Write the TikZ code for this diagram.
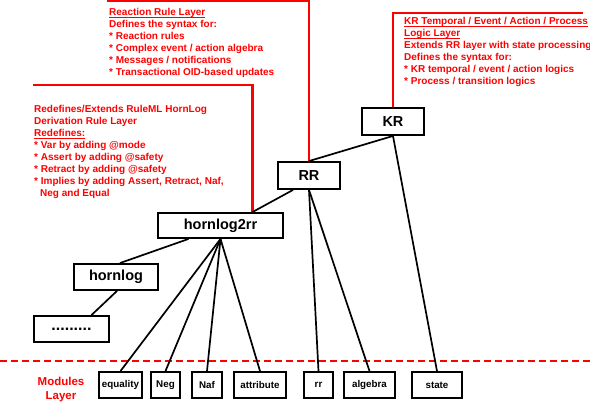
\documentclass[tikz,border=0pt]{standalone}
\usepackage{fontspec}
\setmainfont{Liberation Sans}
\usetikzlibrary{positioning}
\newcommand{\ulin}[1]{\underline{\raisebox{0pt}[\height][0pt]{#1}}}

\begin{document}
\begin{tikzpicture}[x=1pt,y=-1pt,
  box/.style={draw,line width=1.9pt,inner sep=0pt,font=\fontsize{14.5}{16}\selectfont\bfseries,minimum height=27pt},
  mod/.style={draw,line width=1.9pt,inner sep=0pt,font=\fontsize{9.8}{12}\selectfont\bfseries,minimum height=26pt},
  note/.style={inner sep=0pt,anchor=north west,align=left,text=red,font=\fontsize{10}{12}\selectfont\bfseries},
  redline/.style={draw=red,line width=2.2pt},
  conn/.style={line width=1.7pt}]
\useasboundingbox (0,0) rectangle (590,407);
% layer boxes
\node[box,minimum width=62pt] (KR) at (393,121.5) {KR};
\node[box,minimum width=62pt] (RR) at (309,175.5) {RR};
\node[box,minimum width=125pt,minimum height=25pt] (h2r) at (220.5,225.5) {hornlog2rr};
\node[box,minimum width=84pt,minimum height=26pt] (hl) at (116,277) {hornlog};
\node[box,minimum width=75pt,minimum height=26pt,font=\fontsize{16}{16}\selectfont\bfseries] (more) at (71.5,329) {.........};
% modules
\node[mod,minimum width=43pt] (equ) at (120.5,385) {equality};
\node[mod,minimum width=29pt] (neg) at (165.5,385) {Neg};
\node[mod,minimum width=30pt] (naf) at (207,385) {Naf};
\node[mod,minimum width=52pt] (att) at (260,385) {attribute};
\node[mod,minimum width=29pt] (rr) at (318.5,385) {rr};
\node[mod,minimum width=51pt] (alg) at (369.5,385) {algebra};
\node[mod,minimum width=50pt] (st) at (437,385) {state};
\node[text=red,align=center,font=\fontsize{11.5}{14}\selectfont\bfseries] (mlay) at (61,390) {Modules\\Layer};
\draw[draw=red,line width=1.3pt,dash pattern=on 7pt off 4pt] (0,361) -- (590,361);
% notes
\node[note] (rnote) at (109,8) {\ulin{Reaction Rule Layer}\\Defines the syntax for:\\* Reaction rules\\* Complex event / action algebra\\* Messages / notifications\\* Transactional OID-based updates};
\node[note] (knote) at (404,17) {\ulin{KR Temporal / Event / Action / Process}\\\ulin{Logic Layer}\\Extends RR layer with state processing\\Defines the syntax for:\\* KR temporal / event / action logics\\* Process / transition logics};
\node[note] (hnote) at (34,105) {Redefines/Extends RuleML HornLog\\Derivation Rule Layer\\\ulin{Redefines:}\\* Var by adding @mode\\* Assert by adding @safety\\* Retract by adding @safety\\* Implies by adding Assert, Retract, Naf,\\\hspace*{6pt}Neg and Equal};
\coordinate (rend) at (107,1);\coordinate (hend) at (33,85);\coordinate (kend) at (583,13);
\draw[redline] (RR.north) |- (rend);
\draw[redline] ([xshift=32pt]h2r.north) |- (hend);
\draw[redline] (KR.north) |- (kend);
% connectors
\draw[conn] (KR.south)--(RR.north);\draw[conn] (KR.south)--(st.north);
\draw[conn] (RR.south)--(rr.north);\draw[conn] (RR.south)--(alg.north);
\draw[conn] ([xshift=-16pt]RR.south)--([xshift=32pt]h2r.north);
\draw[conn] ([xshift=-32pt]h2r.south)--([xshift=4pt]hl.north);
\draw[conn] ([xshift=1pt]hl.south)--([xshift=20pt]more.north);
\foreach \m in {equ,neg,naf,att} \draw[conn] (h2r.south)--(\m.north);
\end{tikzpicture}
\end{document}
